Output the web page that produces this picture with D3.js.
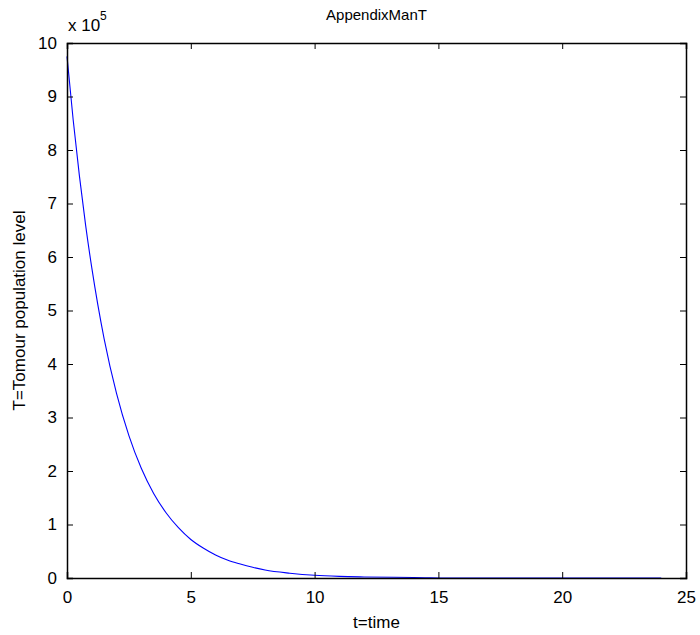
<!DOCTYPE html>
<meta charset="utf-8">
<script src="https://d3js.org/d3.v7.min.js"></script>
<style>
  body { margin: 0; background: #fff; }
  svg text { font-family: "Liberation Sans", Arial, sans-serif; fill: #000; }
</style>
<div id="chart"></div>
<script>
// time values (t) and tumour level (x 10^5)
var tVals = [0, 0.25, 0.5, 0.75, 1, 1.5, 2, 2.5, 3, 3.5, 4, 4.5, 5, 5.5, 6, 6.5, 7, 7.5, 8, 9, 10, 11, 12, 14, 16, 18, 20, 22, 24];
var tumour = [9.75, 8.56, 7.52, 6.60, 5.80, 4.47, 3.45, 2.66, 2.05, 1.58, 1.22, 0.94, 0.72, 0.56, 0.43, 0.33, 0.26, 0.20, 0.15, 0.09, 0.05, 0.03, 0.02, 0.01, 0, 0, 0, 0, 0];
var xTicks = [0, 5, 10, 15, 20, 25];
var yTicks = [0, 1, 2, 3, 4, 5, 6, 7, 8, 9, 10];

var W = 700, H = 635;
var margin = {top: 43, right: 14, bottom: 57, left: 67};
var width = W - margin.left - margin.right,
    height = H - margin.top - margin.bottom;

var svg = d3.select("#chart").append("svg")
    .attr("width", W).attr("height", H);

var g = svg.append("g")
    .attr("transform", "translate(" + margin.left + "," + margin.top + ")");

var x = d3.scaleLinear().domain([0, 25]).range([0, width]);
var y = d3.scaleLinear().domain([0, 10]).range([height, 0]);

// curve
var data = tVals.map(function(t, i) { return {t: t, v: tumour[i]}; });
g.append("path")
  .datum(data)
  .attr("fill", "none")
  .attr("stroke", "#0000ff")
  .attr("stroke-width", 1.1)
  .attr("d", d3.line()
      .x(function(d) { return x(d.t); })
      .y(function(d) { return y(d.v); })
      .curve(d3.curveMonotoneX));

// axes, matlab style: ticks inward on all four sides
var tk = 6;
var bottom = g.append("g").attr("transform", "translate(0," + height + ")")
  .call(d3.axisBottom(x).tickValues(xTicks).tickSize(-tk).tickPadding(10));
var top = g.append("g")
  .call(d3.axisTop(x).tickValues(xTicks).tickSize(-tk).tickFormat(""));
var left = g.append("g")
  .call(d3.axisLeft(y).tickValues(yTicks).tickSize(-tk).tickPadding(10));
var right = g.append("g").attr("transform", "translate(" + width + ",0)")
  .call(d3.axisRight(y).tickValues(yTicks).tickSize(-tk).tickFormat(""));

g.selectAll(".domain").attr("stroke", "#000").attr("stroke-width", 1.5);
g.selectAll(".tick line").attr("stroke", "#000");
g.selectAll(".tick text").style("font-size", "17px");
bottom.selectAll(".tick text").attr("dy", "0.9em");

// exponent label
svg.append("text").attr("x", margin.left + 1).attr("y", 31).style("font-size", "17px").text("x 10");
svg.append("text").attr("x", margin.left + 33).attr("y", 20).style("font-size", "12px").text("5");

// titles
svg.append("text").attr("x", margin.left + width / 2).attr("y", 20)
  .attr("text-anchor", "middle").style("font-size", "15px").text("AppendixManT");
svg.append("text").attr("x", margin.left + width / 2).attr("y", 628)
  .attr("text-anchor", "middle").style("font-size", "17px").text("t=time");
svg.append("text")
  .attr("transform", "translate(25," + (margin.top + height / 2) + ") rotate(-90)")
  .attr("text-anchor", "middle").style("font-size", "17px").text("T=Tomour population level");
</script>
